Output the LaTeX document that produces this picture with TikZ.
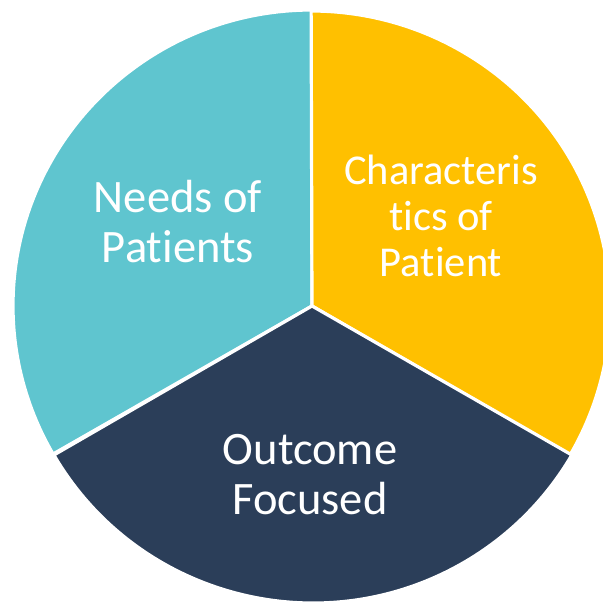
\documentclass[tikz,border=0pt]{standalone}
\usepackage{fontspec}
\setmainfont{Carlito}[Ligatures=NoCommon]
\definecolor{pieteal}{RGB}{95,197,207}
\definecolor{pieyellow}{RGB}{255,192,0}
\definecolor{pienavy}{RGB}{43,62,89}
\begin{document}
\begin{tikzpicture}[x=1pt,y=1pt,
  slice/.style={draw=white,line width=3.2pt,line join=miter},
  label/.style={text=white,align=center,inner sep=0pt,
    font=\fontsize{46.5}{50}\selectfont}]
  \useasboundingbox (0,0) rectangle (603,603);
  \clip (0,0) rectangle (603,603);
  \coordinate (c) at (312,297);
  % three pie slices, 120 degrees each
  \fill[pieteal,slice] (c) -- ++(90:296pt) arc[start angle=90,end angle=210,x radius=299pt,y radius=296pt] -- cycle;
  \fill[pieyellow,slice] (c) -- ++(-30:298pt) arc[start angle=-30,end angle=90,x radius=299pt,y radius=296pt] -- cycle;
  \fill[pienavy,slice] (c) -- ++(210:298pt) arc[start angle=210,end angle=330,x radius=299pt,y radius=296pt] -- cycle;
  % slice captions
  \node[label] (needs) at (178,381) {Needs of\\Patients};
  \node[label,font=\fontsize{42.5}{46}\selectfont] (chars) at (441,387) {Characteris\\tics of\\Patient};
  \node[label] (outcome) at (310,128) {Outcome\\Focused};
\end{tikzpicture}
\end{document}
